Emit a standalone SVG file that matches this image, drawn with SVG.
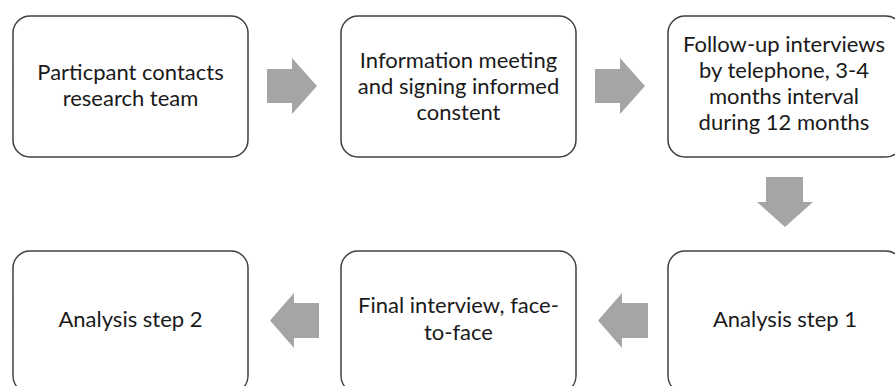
<svg xmlns="http://www.w3.org/2000/svg" width="895" height="386" viewBox="0 0 895 386">
<style>
.box{fill:#ffffff;stroke:#404040;stroke-width:1.5}
.arr{fill:#a5a5a5;stroke:none}
text{font-family:Lato,"Open Sans",sans-serif;font-size:22px;fill:#1a1a1a;text-anchor:middle}
</style>
<rect width="895" height="386" fill="#ffffff"/>
<g id="connectors">
<polygon class="arr" points="267,69 292,69 292,58 317,86 292,114 292,103 267,103"/>
<polygon class="arr" points="595,69 620,69 620,58 645,86 620,114 620,103 595,103"/>
<polygon class="arr" points="766,177 803,177 803,202 813,202 785,227 757,202 766,202"/>
<polygon class="arr" points="648,303 622,303 622,293 598,320.5 622,348 622,338 648,338"/>
<polygon class="arr" points="319,303 294,303 294,293 270,320.5 294,348 294,338 319,338"/>
</g>
<g id="n1">
<rect class="box" x="13" y="16" width="235" height="141" rx="17"/>
<text x="130.5" y="80">Particpant contacts</text>
<text x="130.5" y="106">research team</text>
</g>
<g id="n2">
<rect class="box" x="341" y="16" width="235" height="141" rx="17"/>
<text x="458.5" y="68">Information meeting</text>
<text x="458.5" y="94">and signing informed</text>
<text x="458.5" y="120">constent</text>
</g>
<g id="n3">
<rect class="box" x="668" y="16" width="235" height="141" rx="17"/>
<text x="784" y="52">Follow-up interviews</text>
<text x="784" y="78">by telephone, 3-4</text>
<text x="784" y="104">months interval</text>
<text x="784" y="130">during 12 months</text>
</g>
<g id="n4">
<rect class="box" x="668" y="251" width="235" height="142" rx="17"/>
<text x="785" y="327">Analysis step 1</text>
</g>
<g id="n5">
<rect class="box" x="341" y="251" width="235" height="142" rx="17"/>
<text x="458.5" y="313">Final interview, face-</text>
<text x="458.5" y="340">to-face</text>
</g>
<g id="n6">
<rect class="box" x="13" y="251" width="235" height="142" rx="17"/>
<text x="130.5" y="327">Analysis step 2</text>
</g>
</svg>
